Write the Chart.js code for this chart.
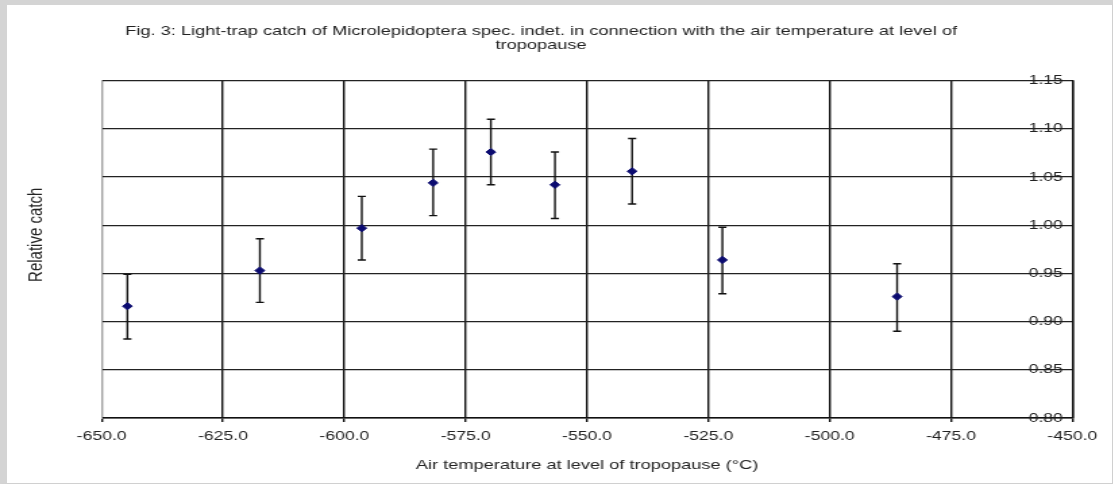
<!DOCTYPE html>
<html>
<head>
<meta charset="utf-8">
<script src="https://cdn.jsdelivr.net/npm/chart.js@4.4.1/dist/chart.umd.min.js"></script>
<style>
html,body{margin:0;padding:0;background:#fff;overflow:hidden;}
#frame{position:absolute;left:0;top:0;width:1113px;height:484px;box-sizing:border-box;
  border-top:5px solid #d4d4d4;border-left:7px solid #d4d4d4;border-right:1px solid #d0d0d0;border-bottom:1px solid #d0d0d0;}
#wrap{position:absolute;left:0;top:0;width:829px;height:490px;transform:scaleX(1.35);transform-origin:0 0;}
</style>
</head>
<body>
<div id="frame"></div>
<div id="wrap"><canvas id="c"></canvas></div>
<script>
// ---- data ----
const titleLines = ['Fig. 3: Light-trap catch of Microlepidoptera spec. indet. in connection with the air temperature at level of', 'tropopause'];
const xTitle = 'Air temperature at level of tropopause (\u00B0C)';
const yTitle = 'Relative catch';
const temperatures  = [-644.7, -617.4, -596.4, -581.7, -569.8, -556.6, -540.7, -522.1, -486.1];
const relativeCatch = [0.916, 0.953, 0.997, 1.044, 1.076, 1.042, 1.056, 0.964, 0.926];
const catchLow      = [0.882, 0.920, 0.964, 1.010, 1.042, 1.007, 1.022, 0.929, 0.890];
const catchHigh     = [0.949, 0.986, 1.030, 1.079, 1.110, 1.076, 1.090, 0.998, 0.960];
const xTicks = [-650, -625, -600, -575, -550, -525, -500, -475, -450];
const yTicks = [0.80, 0.85, 0.90, 0.95, 1.00, 1.05, 1.10, 1.15];

const FONT = 'Liberation Sans';
const TXT = '#222';

const errorBars = {
  id: 'errorBars',
  beforeDatasetsDraw(chart) {
    const {ctx, scales: {x, y}} = chart;
    ctx.save();
    ctx.strokeStyle = '#111';
    ctx.lineWidth = 1.4;
    temperatures.forEach((t, i) => {
      const px = x.getPixelForValue(t);
      const pl = y.getPixelForValue(catchLow[i]);
      const ph = y.getPixelForValue(catchHigh[i]);
      ctx.beginPath();
      ctx.moveTo(px, ph); ctx.lineTo(px, pl);
      ctx.moveTo(px - 3, ph); ctx.lineTo(px + 3, ph);
      ctx.moveTo(px - 3, pl); ctx.lineTo(px + 3, pl);
      ctx.stroke();
    });
    ctx.restore();
  }
};

const yLabel = {
  id: 'yLabel',
  afterDraw(chart) {
    const {ctx, chartArea} = chart;
    ctx.save();
    ctx.translate(chartArea.left - 48.6, (chartArea.top + chartArea.bottom) / 2 - 14.5);
    ctx.rotate(-Math.PI / 2);
    ctx.font = '15px "' + FONT + '"';
    ctx.fillStyle = TXT;
    ctx.textAlign = 'center';
    ctx.textBaseline = 'middle';
    ctx.fillText(yTitle, 0, 0);
    ctx.restore();
  }
};

new Chart(document.getElementById('c'), {
  type: 'scatter',
  data: {
    datasets: [{
      data: temperatures.map((t, i) => ({x: t, y: relativeCatch[i]})),
      pointStyle: 'rectRot',
      pointRadius: 3.6,
      pointHoverRadius: 3.6,
      backgroundColor: '#0b0b70',
      borderColor: '#0b0b70',
      borderWidth: 1,
      showLine: false
    }]
  },
  options: {
    responsive: true,
    maintainAspectRatio: false,
    animation: false,
    events: [],
    layout: {padding: {left: 7.4, right: 34.7, top: 0, bottom: 12.2}, autoPadding: false},
    plugins: {
      legend: {display: false},
      tooltip: {enabled: false},
      title: {
        display: true,
        text: titleLines,
        color: TXT,
        font: {family: FONT, size: 13.5, weight: 'normal', lineHeight: 1.0},
        padding: {top: 25, bottom: 28.7}
      }
    },
    scales: {
      x: {
        type: 'linear', position: 'bottom', min: -650, max: -450,
        afterBuildTicks: s => { s.ticks = xTicks.map(v => ({value: v})); },
        ticks: {font: {family: FONT, size: 13}, color: TXT, padding: 7, maxRotation: 0, autoSkip: false,
                callback: v => Number(v).toFixed(1)},
        grid: {color: c => (c.tick && c.tick.value === -650) ? '#a0a0a0' : '#111',
               lineWidth: 1.4, tickLength: 4, tickColor: '#111', drawTicks: true},
        border: {display: true, color: '#111', width: 1.4},
        title: {display: true, text: xTitle, color: TXT, font: {family: FONT, size: 13.5}, padding: {top: 6, bottom: 4}}
      },
      y: {
        type: 'linear', position: 'right', min: 0.8, max: 1.15,
        afterBuildTicks: s => { s.ticks = yTicks.map(v => ({value: v})); },
        afterFit: s => { s.width = 0; },
        ticks: {mirror: true, padding: -7, font: {family: FONT, size: 13}, color: TXT,
                callback: v => Number(v).toFixed(2)},
        grid: {color: '#222', lineWidth: 1.3, drawTicks: false},
        border: {display: true, color: '#111', width: 1.4}
      },
      yL: {
        type: 'linear', position: 'left', min: 0.8, max: 1.15,
        afterFit: s => { s.width = 67.9; },
        ticks: {display: false},
        grid: {display: true, drawOnChartArea: false, drawTicks: false},
        border: {display: true, color: '#a0a0a0', width: 1}
      }
    }
  },
  plugins: [errorBars, yLabel]
});
</script>
</body>
</html>
